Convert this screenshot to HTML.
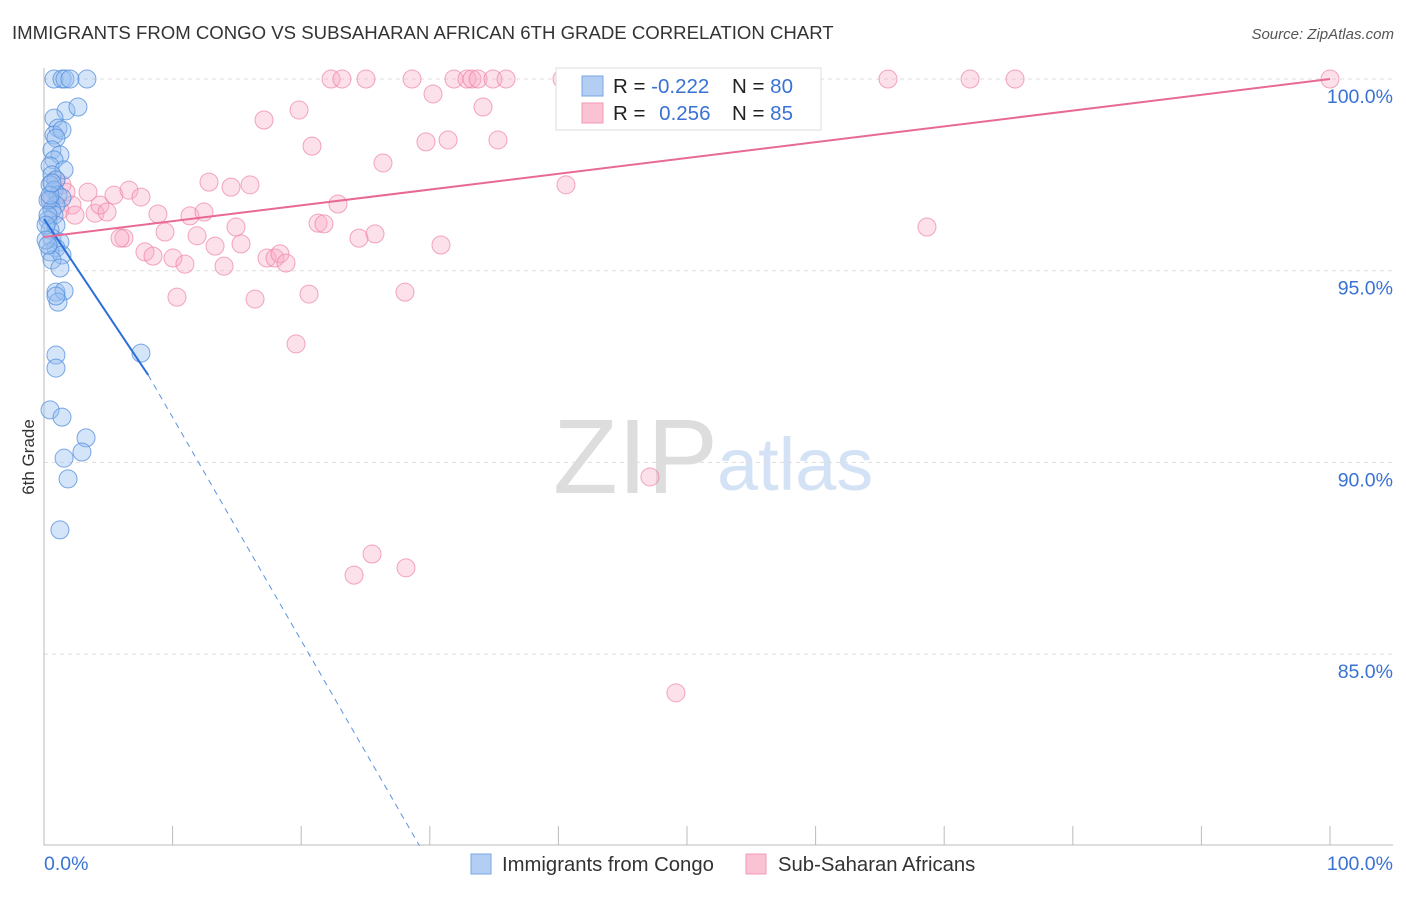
<!DOCTYPE html>
<html><head><meta charset="utf-8"><style>
body{margin:0;background:#fff;font-family:"Liberation Sans",sans-serif;}
svg text{font-family:"Liberation Sans",sans-serif;}
</style></head><body>
<svg width="1406" height="892" id="chart">
<text x="12" y="39" font-size="18.6" fill="#333">IMMIGRANTS FROM CONGO VS SUBSAHARAN AFRICAN 6TH GRADE CORRELATION CHART</text>
<text x="1394" y="39" font-size="15" fill="#555" text-anchor="end" font-style="italic">Source: ZipAtlas.com</text>
<text transform="translate(34,457) rotate(-90)" font-size="17" fill="#333" text-anchor="middle">6th Grade</text>
<text x="553" y="493" font-size="106" fill="#ddd" font-family="Liberation Serif">ZIP</text>
<text x="717" y="490" font-size="74" fill="#d3e2f5">atlas</text>
<g id="grid"></g><g id="marks"></g><g id="lines"></g>
<g>
<rect x="556" y="68" width="265" height="62" fill="#fff" stroke="#ddd"/>
<rect x="582" y="76" width="21" height="20" fill="#b4cdf2" stroke="#7aa6e4"/>
<rect x="582" y="103" width="21" height="20" fill="#fac3d3" stroke="#f09ab6"/>
<text x="613" y="93" font-size="20.5" fill="#222">R = <tspan fill="#3a72d4">-0.222</tspan></text>
<text x="732" y="93" font-size="20.5" fill="#222">N = <tspan fill="#3a72d4">80</tspan></text>
<text x="613" y="120" font-size="20.5" fill="#222">R = <tspan fill="#3a72d4" dx="8">0.256</tspan></text>
<text x="732" y="120" font-size="20.5" fill="#222">N = <tspan fill="#3a72d4">85</tspan></text>
</g>
<g>
<rect x="471" y="854" width="20" height="20" fill="#b4cdf2" stroke="#7aa6e4"/>
<text x="502" y="871" font-size="20.3" fill="#333">Immigrants from Congo</text>
<rect x="746" y="854" width="20" height="20" fill="#fac3d3" stroke="#f09ab6"/>
<text x="778" y="871" font-size="20.3" fill="#333">Sub-Saharan Africans</text>
</g>
</svg>
<script>
const yTicks=[100,95,90,85];
const yTickLabels=["100.0%","95.0%","90.0%","85.0%"];
const xTickLabels=["0.0%","100.0%"];
const congoX=[0.78,1.4,1.63,2.02,3.34,1.71,2.64,0.78,1.09,0.78,1.4,0.93,0.62,1.24,0.78,0.47,1.56,0.62,0.93,0.47,0.78,1.09,1.4,0.47,0.93,0.62,0.78,0.31,0.93,0.47,0.62,1.24,0.93,0.47,1.4,0.62,1.24,0.93,1.56,1.09,0.93,0.93,0.93,7.54,0.47,1.4,3.27,2.95,1.56,1.87,1.24,0.31,0.47,0.62,0.31,0.16,0.16,0.31];
const congoY=[100,100,100,100,100,99.17,99.27,98.98,98.72,98.54,98.67,98.46,98.15,98.02,97.89,97.73,97.63,97.5,97.37,97.24,97.1,96.97,96.9,96.84,96.71,96.58,96.45,96.32,96.19,96.06,95.85,95.75,95.59,95.49,95.41,95.28,95.07,94.44,94.47,94.18,94.34,92.8,92.46,92.85,91.37,91.18,90.64,90.27,90.11,89.57,88.24,96.84,96.97,97.29,96.45,96.19,95.8,95.67];
const subX=[40.28,43.23,46.03,52.26,55.52,56.07,59.1,22.32,23.17,25.04,28.62,31.88,32.89,33.28,33.75,34.91,35.93,65.63,72.01,75.51,100,30.25,19.83,17.11,34.14,20.84,29.7,31.42,35.3,26.36,40.59,12.83,14.54,16.02,1.4,0.93,1.71,3.42,2.18,3.97,4.35,4.9,5.44,6.61,7.54,8.86,11.35,12.44,6.22,5.91,9.41,11.9,14.93,15.32,13.3,7.85,8.48,10.03,10.96,14.0,17.34,17.96,18.35,18.82,21.31,21.77,22.86,24.49,25.74,30.87,68.66,10.34,16.41,20.61,28.07,19.6,47.12,25.51,24.11,28.15,49.14,0.47,1.24,2.41];
const subY=[100,100,100,100,100,100,100,100,100,100,100,100,100,100,100,100,100,100,100,100,100,99.61,99.19,98.93,99.27,98.25,98.36,98.41,98.41,97.81,97.24,97.31,97.18,97.24,97.24,97.37,97.05,97.05,96.71,96.5,96.71,96.53,96.97,97.1,96.92,96.48,96.43,96.53,95.85,95.85,96.01,95.91,96.14,95.7,95.64,95.49,95.38,95.33,95.17,95.12,95.33,95.33,95.44,95.2,96.24,96.22,96.74,95.85,95.96,95.67,96.14,94.31,94.26,94.39,94.44,93.09,89.62,87.61,87.06,87.25,83.99,96.84,96.58,96.45];
const congoTrend=[[0,96.35],[8.1,92.28],[29.2,80.0]];
const subTrend=[[0,95.88],[100,100]];
const NS='http://www.w3.org/2000/svg';
const xs=v=>44+v*12.86, ys=v=>79+(100-v)*38.34;
function mk(tag,attrs,parent){const e=document.createElementNS(NS,tag);for(const k in attrs)e.setAttribute(k,attrs[k]);document.getElementById(parent).appendChild(e);return e;}
yTicks.forEach((t,i)=>{
 const g=mk('line',{x1:44,x2:1393,y1:ys(t),y2:ys(t),stroke:'#ddd','stroke-dasharray':'4,4'},'grid');
 
 
 const l=mk('text',{x:1393,y:ys(t)+24,'font-size':19.5,fill:'#3a72d4','text-anchor':'end'},'grid');l.textContent=yTickLabels[i];
 
 
});
const ax=mk('path',{d:'M44,68 V845 H1393',fill:'none',stroke:'#bbb'},'grid');


for(let i=0;i<=10;i++){const t=mk('line',{x1:xs(i*10),x2:xs(i*10),y1:826,y2:845,stroke:'#bbb'},'grid');
 
 }
[[0,'start',44],[100,'end',1393]].forEach((d,i)=>{const l=mk('text',{x:d[2],y:870,'font-size':19.5,fill:'#3a72d4','text-anchor':d[1]},'grid');l.textContent=xTickLabels[i];
 
 });
subX.forEach((x,i)=>{const c=mk('circle',{cx:xs(x),cy:ys(subY[i]),r:9,fill:'rgba(248,170,195,0.35)',stroke:'rgba(236,130,165,0.7)'},'marks');
 
 });
congoX.forEach((x,i)=>{const c=mk('circle',{cx:xs(x),cy:ys(congoY[i]),r:9,fill:'rgba(150,190,240,0.4)',stroke:'rgba(80,140,220,0.75)'},'marks');
 
 });
const l1=mk('line',{x1:xs(congoTrend[0][0]),y1:ys(congoTrend[0][1]),x2:xs(congoTrend[1][0]),y2:ys(congoTrend[1][1]),stroke:'#2a70d8','stroke-width':2},'lines');


const l2=mk('line',{x1:xs(congoTrend[1][0]),y1:ys(congoTrend[1][1]),x2:xs(congoTrend[2][0]),y2:ys(congoTrend[2][1]),stroke:'#5a94e0','stroke-width':1,'stroke-dasharray':'6,5'},'lines');


const l3=mk('line',{x1:xs(subTrend[0][0]),y1:ys(subTrend[0][1]),x2:xs(subTrend[1][0]),y2:ys(subTrend[1][1]),stroke:'#e86a94','stroke-width':2},'lines');


</script>
</body></html>
